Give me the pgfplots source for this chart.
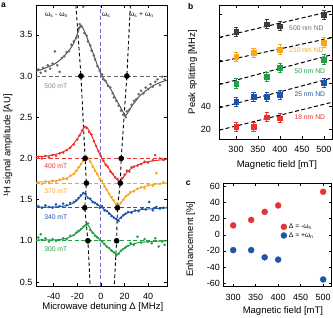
\documentclass[border=0pt]{standalone}
\usepackage{pgfplots}
\pgfplotsset{compat=1.18}
\usepackage{fontspec}
\setmainfont{Liberation Sans}
\setsansfont{Liberation Sans}
\definecolor{cgrey}{RGB}{85,85,85}
\definecolor{cgreyd}{RGB}{105,105,105}
\definecolor{cdark}{RGB}{60,60,60}
\definecolor{cred}{RGB}{235,50,50}
\definecolor{corange}{RGB}{247,166,30}
\definecolor{cblue}{RGB}{30,85,170}
\definecolor{cgreen}{RGB}{35,160,70}
\definecolor{cpurple}{RGB}{115,105,200}
\newcommand{\lab}{\fontsize{9.5}{11}\selectfont}
\newcommand{\tlab}{\fontsize{9}{10}\selectfont}
\newcommand{\sm}{\fontsize{6.8}{7.5}\selectfont}
\begin{document}
\begin{tikzpicture}
\useasboundingbox (0pt,0pt) rectangle (333pt,317pt);
\pgfplotsset{every axis/.append style={
  scale only axis, anchor=south west,
  font=\lab,
  tick label style={font=\tlab},
  /pgf/number format/assume math mode=true,
  tick align=inside, tick pos=both,
  major tick length=3pt,
  every tick/.style={black, line width=0.6pt},
  axis line style={line width=0.8pt},
  xticklabel style={yshift=-3.5pt},
}}
% ---------------- panel a ----------------
\begin{axis}[at={(36pt,31pt)}, width=131pt, height=281pt,
  xmin=-55, xmax=56, ymin=0.451, ymax=3.862,
  xtick={-40,-20,0,20,40}, ytick={0.5,1,1.5,2,2.5,3,3.5},
  yticklabel style={/pgf/number format/.cd,fixed,fixed zerofill,precision=1},
  xlabel={Microwave detuning Δ [MHz]},
  ylabel={¹H signal amplitude [AU]},
  xlabel style={at={(axis description cs:0.51,-0.075)}, anchor=center},
  ylabel style={at={(axis description cs:-0.215,0.5)}, anchor=center},
  clip=true]
% baselines
\addplot[cgreyd, dash pattern=on 4pt off 2.5pt, line width=0.9pt] coordinates {(-55,3)(56,3)};
\addplot[cred, dash pattern=on 4pt off 2.5pt, line width=0.9pt] coordinates {(-55,2)(56,2)};
\addplot[corange, dash pattern=on 4pt off 2.5pt, line width=0.9pt] coordinates {(-55,1.7)(56,1.7)};
\addplot[cblue, dash pattern=on 4pt off 2.5pt, line width=0.9pt] coordinates {(-55,1.4)(56,1.4)};
\addplot[cgreen, dash pattern=on 4pt off 2.5pt, line width=0.9pt] coordinates {(-55,1.0)(56,1.0)};
\addplot[cpurple, dash pattern=on 4pt off 2.5pt, line width=1pt] coordinates {(0,0.451)(0,3.862)};
% omega lines
\addplot[black, dash pattern=on 3.5pt off 2.5pt, line width=0.9pt] coordinates {(-21.2,3.862)(-16.9,3)(-13.4,2)(-12.3,1.7)(-13.7,1.4)(-11,1)(-9.1,0.451)};
\addplot[black, dash pattern=on 3.5pt off 2.5pt, line width=0.9pt] coordinates {(25,3.862)(22,3)(17.2,2)(16.4,1.7)(14,1.4)(13.3,1)(11.3,0.451)};
% scatter 500 mT
\addplot[only marks, mark=*, mark size=1.1pt, cgreyd] coordinates {
(-53,3.08)(-51,3.04)(-49,3.10)(-47,3.06)(-45,3.13)(-43,3.09)(-41,3.15)(-39,3.30)(-37,3.13)(-35,3.05)
(-33,3.22)(-31,3.24)(-29,3.29)(-27,3.30)(-25,3.38)(-23,3.42)(-21,3.46)(-19,3.58)(-18,3.63)(-17,3.60)
(-15,3.84)(-14,3.52)(-12,3.49)(-11,3.42)(-9,3.37)(-8,3.31)(-6,3.25)(-5,3.20)(-3,3.12)(-1,3.06)
(1,3.02)(2,2.96)(4,2.94)(6,2.88)(8,2.86)(10,2.79)(11,2.74)(13,2.70)(15,2.64)(17,2.58)(19,2.53)
(21,2.50)(22,2.57)(24,2.59)(26,2.65)(28,2.70)(30,2.72)(32,2.78)(34,2.82)(36,2.79)(38,2.86)(40,2.84)
(42,2.90)(44,2.87)(46,2.93)(48,2.96)(50,2.89)(52,2.99)(54,2.96)};
\addplot[cgrey, line width=1pt, smooth] coordinates {
(-55,3.06)(-50,3.08)(-45,3.11)(-40,3.14)(-35,3.19)(-30,3.26)(-26,3.33)(-23,3.40)(-20.5,3.49)(-18.5,3.57)
(-17,3.62)(-15.5,3.59)(-13,3.51)(-10,3.40)(-7,3.29)(-4,3.17)(-1.5,3.08)(1,3.00)(4,2.93)(8,2.85)
(12,2.74)(15.5,2.65)(18.5,2.57)(20.8,2.52)(23,2.56)(26,2.63)(29,2.69)(33,2.76)(38,2.82)(44,2.88)(50,2.92)(56,2.95)};
% 400 mT
\addplot[only marks, mark=*, mark size=1.1pt, cred] coordinates {
(-53,2.02)(-50,2.00)(-47,2.03)(-44,2.01)(-41,2.04)(-38,2.03)(-35,2.06)(-32,2.07)(-29,2.10)(-26,2.13)
(-23,2.17)(-20,2.23)(-18,2.28)(-16,2.34)(-14,2.38)(-12,2.37)(-10,2.32)(-8,2.29)(-6,2.21)(-4,2.15)
(-2,2.09)(0,2.03)(2,1.97)(4,1.92)(6,1.90)(8,1.84)(10,1.81)(12,1.77)(14,1.75)(16,1.71)(18,1.76)
(20,1.80)(22,1.85)(24,1.84)(26,1.89)(28,1.90)(31,1.91)(34,1.93)(37,1.96)(40,1.95)(44,1.98)(46,2.04)(50,2.00)(53,1.98)};
\addplot[cred, line width=1pt, smooth] coordinates {
(-55,2.02)(-45,2.03)(-38,2.05)(-32,2.08)(-27,2.12)(-23,2.18)(-19,2.26)(-16,2.33)(-13.5,2.39)(-11,2.36)
(-8,2.28)(-5,2.18)(-2,2.08)(0,2.02)(3,1.95)(6,1.89)(9,1.83)(12,1.77)(14.5,1.73)(16.5,1.72)(19,1.77)
(22,1.83)(26,1.88)(31,1.92)(37,1.95)(44,1.97)(56,1.99)};
% 370 mT
\addplot[only marks, mark=*, mark size=1.1pt, corange] coordinates {
(-53,1.71)(-50,1.69)(-47,1.72)(-44,1.70)(-41,1.73)(-38,1.72)(-35,1.74)(-32,1.76)(-29,1.75)(-26,1.79)
(-23,1.81)(-21,1.85)(-19,1.89)(-17,1.93)(-15,1.97)(-13,2.03)(-11,2.00)(-9,1.96)(-7,1.90)(-5,1.85)
(-3,1.81)(-1,1.75)(1,1.73)(3,1.66)(5,1.62)(7,1.57)(9,1.53)(11,1.49)(13,1.45)(15,1.42)(17,1.46)
(19,1.50)(21,1.54)(23,1.56)(25,1.59)(28,1.60)(31,1.63)(34,1.65)(37,1.64)(40,1.68)(44,1.67)(47,1.82)(50,1.69)(53,1.71)};
\addplot[corange, line width=1pt, smooth] coordinates {
(-55,1.71)(-45,1.72)(-37,1.73)(-31,1.75)(-26,1.78)(-22,1.83)(-19,1.88)(-16,1.95)(-13,2.02)(-11,2.01)
(-8,1.94)(-5,1.86)(-2,1.78)(1,1.72)(3,1.67)(6,1.59)(9,1.52)(12,1.46)(14.5,1.42)(17,1.46)(20,1.52)
(24,1.57)(28,1.61)(33,1.64)(40,1.67)(48,1.69)(56,1.70)};
% 340 mT
\addplot[only marks, mark=*, mark size=1.1pt, cblue] coordinates {
(-53,1.42)(-50,1.40)(-47,1.43)(-44,1.41)(-41,1.40)(-38,1.44)(-35,1.42)(-32,1.45)(-29,1.43)(-26,1.46)
(-23,1.47)(-21,1.49)(-19,1.52)(-17,1.55)(-15,1.58)(-13,1.57)(-11,1.52)(-9,1.51)(-7,1.47)(-5,1.46)
(-3,1.44)(-1,1.40)(1,1.42)(3,1.37)(5,1.36)(7,1.33)(9,1.30)(11,1.28)(13,1.26)(15,1.24)(17,1.28)
(19,1.31)(21,1.33)(23,1.35)(26,1.34)(29,1.37)(32,1.36)(35,1.39)(38,1.38)(41,1.47)(44,1.37)(47,1.41)(50,1.39)(53,1.40)};
\addplot[cblue, line width=1pt, smooth] coordinates {
(-55,1.41)(-40,1.41)(-32,1.42)(-26,1.44)(-22,1.47)(-19,1.51)(-16,1.56)(-14.5,1.58)(-12,1.54)(-9,1.50)
(-6,1.47)(-3,1.44)(0,1.41)(3,1.38)(6,1.35)(9,1.31)(12,1.27)(14,1.25)(16,1.27)(19,1.31)(23,1.34)
(28,1.36)(35,1.38)(45,1.39)(56,1.40)};
% 300 mT
\addplot[only marks, mark=*, mark size=1.1pt, cgreen] coordinates {
(-53,1.04)(-51,1.08)(-50,1.01)(-47,1.03)(-44,0.99)(-41,1.02)(-38,1.00)(-35,1.01)(-32,1.03)(-29,1.02)
(-26,1.06)(-23,1.07)(-21,1.10)(-19,1.12)(-17,1.14)(-15,1.17)(-13,1.19)(-11,1.21)(-9,1.13)(-7,1.10)
(-5,1.06)(-3,1.04)(-1,1.01)(1,0.99)(3,0.96)(5,0.93)(7,0.91)(9,0.88)(11,0.86)(13,0.82)(15,0.84)
(17,0.88)(19,0.90)(21,0.92)(23,0.94)(25,0.97)(28,0.95)(31,1.05)(34,0.98)(37,1.02)(40,0.99)(43,0.97)
(46,1.03)(49,0.93)(52,0.99)(54,0.95)};
\addplot[cgreen, line width=1pt, smooth] coordinates {
(-55,1.01)(-40,1.01)(-32,1.02)(-27,1.04)(-23,1.07)(-19,1.11)(-15,1.16)(-12,1.20)(-10,1.17)(-8,1.12)
(-5,1.07)(-2,1.03)(0,1.00)(3,0.96)(6,0.92)(9,0.88)(11.5,0.85)(13,0.83)(15,0.85)(18,0.89)(22,0.93)
(27,0.96)(33,0.98)(42,0.99)(56,1.00)};
% black dots
\addplot[only marks, mark=*, mark size=2.6pt, black] coordinates {
(-16.9,3)(22,3)(-13.4,2)(17.2,2)(-12.3,1.7)(16.4,1.7)(-13.7,1.4)(14,1.4)(-11,1)(13.3,1)};
% labels
\node[font=\sm, text=cgrey!70, anchor=west] at (axis cs:-51,2.88) {500 mT};
\node[font=\sm, text=cred, anchor=west] at (axis cs:-51,1.9) {400 mT};
\node[font=\sm, text=corange, anchor=west] at (axis cs:-51,1.6) {370 mT};
\node[font=\sm, text=cblue, anchor=west] at (axis cs:-51,1.29) {340 mT};
\node[font=\sm, text=cgreen, anchor=west] at (axis cs:-51,0.9) {300 mT};
\node[font=\sm] at (axis cs:-37.7,3.74) {ω\textsubscript{s} - ω\textsubscript{n}};
\node[font=\sm] at (axis cs:4.5,3.74) {ω\textsubscript{s}};
\node[font=\sm] at (axis cs:34.2,3.74) {ω\textsubscript{s} + ω\textsubscript{n}};
\end{axis}
% ---------------- panel b ----------------
\begin{axis}[at={(219.3pt,177.7pt)}, width=113pt, height=134.3pt,
  xmin=262, xmax=519, ymin=11, ymax=128,
  xtick={300,350,400,450,500}, ytick={20,40,60,80,100,120},
  yticklabels={20,40,{},{},{},{}},
  yticklabel style={xshift=-5pt},
  xlabel={Magnetic field [mT]}, ylabel={Peak splitting [MHz]},
  xlabel style={at={(axis description cs:0.51,-0.19)}, anchor=center},
  ylabel style={at={(axis description cs:-0.235,0.5)}, anchor=center},
  clip=false]
\addplot[black, dash pattern=on 4pt off 2.5pt, line width=1pt] coordinates {(262,99.8)(519,122.9)};
\addplot[black, dash pattern=on 4pt off 2.5pt, line width=1pt] coordinates {(262,78.4)(519,99.6)};
\addplot[black, dash pattern=on 4pt off 2.5pt, line width=1pt] coordinates {(262,58.7)(519,84.8)};
\addplot[black, dash pattern=on 4pt off 2.5pt, line width=1pt] coordinates {(262,38.4)(519,64.5)};
\addplot[black, dash pattern=on 4pt off 2.5pt, line width=1pt] coordinates {(262,19.0)(519,43.3)};
\pgfplotsset{ebar/.style={only marks, mark=square*, mark size=2.3pt,
  error bars/.cd, y dir=both, y explicit,
  error bar style={line width=0.8pt},
  error mark options={rotate=90, mark size=2.2pt, line width=0.8pt}}}
\addplot[cdark, ebar] coordinates {(300,104.6)+-(0,4)(370,111.3)+-(0,4)(400,109.6)+-(0,4)(500,119.7)+-(0,4)};
\addplot[corange, ebar] coordinates {(300,82.9)+-(0,4)(340,86.3)+-(0,4)(400,89.3)+-(0,4)(500,95.4)+-(0,4)};
\addplot[cgreen, ebar] coordinates {(300,59.7)+-(0,4)(370,65.5)+-(0,4)(400,73.3)+-(0,4)(500,80.6)+-(0,4)};
\addplot[cblue, ebar] coordinates {(300,43.7)+-(0,4)(340,48.1)+-(0,4)(370,48.1)+-(0,4)(400,49.6)+-(0,4)(500,60.3)+-(0,4)};
\addplot[cred, ebar] coordinates {(300,22)+-(0,4)(340,22)+-(0,4)(370,30.2)+-(0,4)(400,29.3)+-(0,4)};
\node[font=\sm, text=cgrey!85, anchor=west] at (axis cs:413,108) {500 nm ND};
\node[font=\sm, text=corange, anchor=west] at (axis cs:413,88.5) {210 nm ND};
\node[font=\sm, text=cgreen, anchor=west] at (axis cs:425,70.4) {50 nm ND};
\node[font=\sm, text=cblue, anchor=west] at (axis cs:425,50.2) {25 nm ND};
\node[font=\sm, text=cred, anchor=west] at (axis cs:425,30.7) {18 nm ND};
\end{axis}
% ---------------- panel c ----------------
\begin{axis}[at={(223.3pt,30.3pt)}, width=108.4pt, height=103.4pt,
  xmin=278, xmax=519, ymin=-64.5, ymax=64,
  xtick={300,350,400,450,500}, ytick={-60,-40,-20,0,20,40,60},
  xlabel={Magnetic field [mT]}, ylabel={Enhancement [\%]},
  xlabel style={at={(axis description cs:0.55,-0.24)}, anchor=center},
  ylabel style={at={(axis description cs:-0.3,0.46)}, anchor=center},
  legend style={at={(0.52,0.64)}, anchor=north west, draw=none, fill=none,
    font=\sm, row sep=-1.5pt, inner sep=1pt},
  legend cell align=left,
  legend image code/.code={\draw[mark repeat=2,mark phase=2,#1] plot coordinates {(0cm,0cm)(0.1cm,0cm)(0.2cm,0cm)};}]
\addplot[only marks, mark=*, mark size=3pt, cred] coordinates {(300,11.7)(340,18.5)(370,28.5)(400,36.5)(500,53.5)};
\addlegendentry{Δ = -ω\textsubscript{n}}
\addplot[only marks, mark=*, mark size=3pt, cblue] coordinates {(300,-19)(340,-19)(370,-28)(400,-30.8)(500,-55.5)};
\addlegendentry{Δ = +ω\textsubscript{n}}
\end{axis}
\node[font=\bfseries\fontsize{8.5}{9}\selectfont] at (3.5pt,312pt) {a};
\node[font=\bfseries\fontsize{8.5}{9}\selectfont] at (190.7pt,311pt) {b};
\node[font=\bfseries\fontsize{8.5}{9}\selectfont] at (188.3pt,133.5pt) {c};
\end{tikzpicture}
\end{document}
